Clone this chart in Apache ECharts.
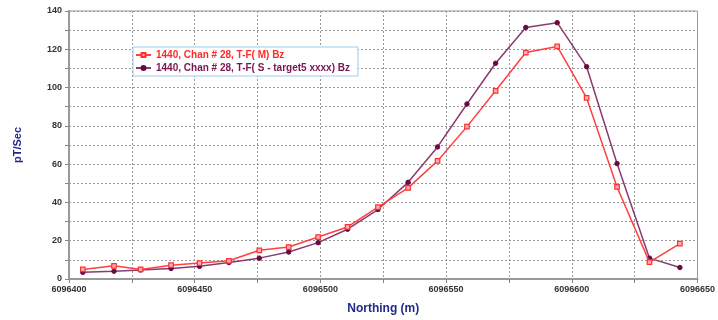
<!DOCTYPE html>
<html><head><meta charset="utf-8">
<script src="https://cdn.jsdelivr.net/npm/echarts@6/dist/echarts.min.js"></script>
<style>html,body{margin:0;padding:0;background:#fff}#c{width:718px;height:320px}</style>
</head><body><div id="c"></div>
<script>
const northing = [6096405.5,6096417.9,6096428.5,6096440.6,6096451.9,6096463.6,6096475.7,6096487.4,6096499.1,6096510.8,6096522.9,6096534.9,6096546.6,6096558.3,6096569.7,6096581.7,6096594.2,6096605.9,6096618.0,6096630.9,6096643.0];
const seriesM = [5.0,6.9,5.0,7.2,8.3,9.5,15.0,16.7,21.9,27.2,37.5,47.6,61.7,79.6,98.3,118.3,121.5,94.6,48.1,8.8,18.5];
const seriesS = [3.5,4.1,4.7,5.5,6.6,8.6,10.9,14.1,19.0,26.0,36.3,50.5,69.0,91.4,112.7,131.4,133.9,110.9,60.3,10.9,6.0];
const nameM = '1440, Chan # 28, T-F( M) Bz';
const nameS = '1440, Chan # 28, T-F( S - target5 xxxx) Bz';
const xTitle = 'Northing (m)';
const yTitle = 'pT/Sec';

const chart = echarts.init(document.getElementById('c'), null, {renderer:'canvas'});
const font = 'Liberation Sans, Arial, sans-serif';
chart.setOption({
  animation:false,
  grid:{left:69,right:8,top:11,bottom:38,show:true,borderColor:'#999',borderWidth:1},
  legend:{
    left:133, top:47, orient:'vertical', itemGap:3, itemWidth:15, itemHeight:5,
    padding:[3,8,3,2],
    borderColor:'#99ccf5', borderWidth:1, backgroundColor:'#fff',
    textStyle:{fontFamily:font,fontWeight:'bold',fontSize:10},
    data:[{name:nameM,textStyle:{color:'#ff2a2a'}},{name:nameS,textStyle:{color:'#7a1450'}}]
  },
  xAxis:{
    type:'value', min:6096400, max:6096650, interval:25,
    name:xTitle, nameLocation:'middle', nameGap:24,
    nameTextStyle:{fontFamily:font,fontWeight:'bold',fontSize:12,color:'#1f2a8a'},
    axisLine:{show:true,lineStyle:{color:'#999',width:2}},
    axisTick:{show:true,length:4,lineStyle:{color:'#888'}},
    axisLabel:{fontFamily:font,fontWeight:'bold',fontSize:9,color:'#333',margin:6,
      alignMinLabel:'center', alignMaxLabel:'center',
      formatter:v=> (Math.round(v)%50===0)? String(Math.round(v)) : ''},
    splitLine:{show:true,lineStyle:{color:'#999',type:[2,2],width:1}}
  },
  yAxis:{
    type:'value', min:0, max:140, interval:10,
    name:yTitle, nameLocation:'middle', nameGap:46, nameRotate:90,
    nameTextStyle:{fontFamily:font,fontWeight:'bold',fontSize:11,color:'#1f2a8a'},
    axisLine:{show:true,lineStyle:{color:'#999',width:2}},
    axisTick:{show:true,length:4,lineStyle:{color:'#888'}},
    axisLabel:{fontFamily:font,fontWeight:'bold',fontSize:9,color:'#333',margin:7,
      formatter:v=> (v%20===0)? String(v) : ''},
    splitLine:{show:true,lineStyle:{color:'#999',type:[2,2],width:1}}
  },
  series:[
    {name:nameM,type:'line',data:northing.map((x,i)=>[x,seriesM[i]]),
     symbol:'rect',symbolSize:4.5,
     itemStyle:{color:'#ffb0b0',borderColor:'#ff3030',borderWidth:1.2},
     lineStyle:{color:'#ff4040',width:1.5},z:3},
    {name:nameS,type:'line',data:northing.map((x,i)=>[x,seriesS[i]]),
     symbol:'circle',symbolSize:4.5,
     itemStyle:{color:'#6a0a40',borderColor:'#6a0a40',borderWidth:1},
     lineStyle:{color:'#8a3a70',width:1.5},z:2}
  ]
});
</script></body></html>
